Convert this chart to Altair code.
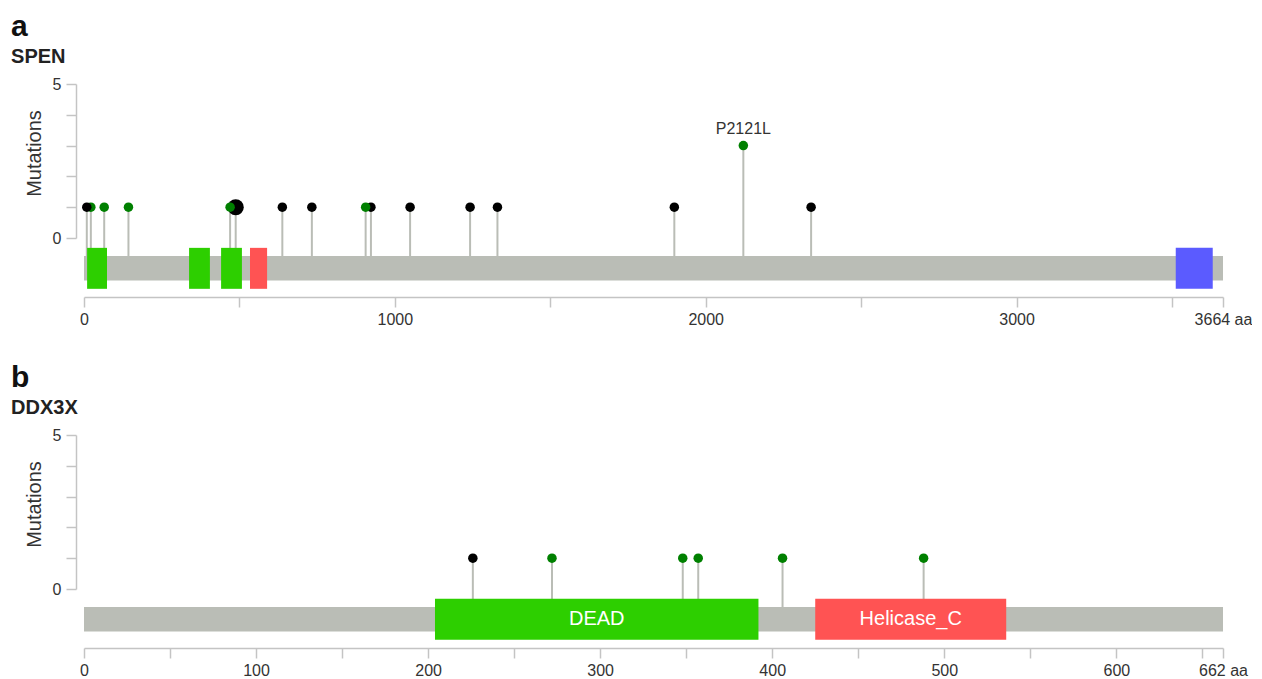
import altair as alt
import pandas as pd

FONT = "Liberation Sans"

# ---------------- SPEN ----------------
spen_length = 3664
spen_pos = [22, 9, 65, 143, 488, 470, 638, 733, 923, 906, 1049, 1242, 1330, 1899, 2121, 2339]
spen_cnt = [1, 1, 1, 1, 1, 1, 1, 1, 1, 1, 1, 1, 1, 1, 3, 1]
spen_type = ["Missense", "Truncating", "Missense", "Missense", "Truncating", "Missense",
             "Truncating", "Truncating", "Truncating", "Missense", "Truncating", "Truncating",
             "Truncating", "Truncating", "Missense", "Truncating"]
spen_dot = ["normal"] * 4 + ["large"] + ["normal"] * 11
spen_label = [""] * 14 + ["P2121L", ""]
spen_dom_name = ["RRM_1", "RRM_1", "RRM_1", "RRM_6", "SPOC"]
spen_dom_start = [10, 338, 441, 534, 3512]
spen_dom_end = [74, 405, 508, 589, 3631]
spen_dom_text = ["", "", "", "", ""]
spen_ticks = [0, 500, 1000, 1500, 2000, 2500, 3000, 3500, 3664]

# ---------------- DDX3X ----------------
ddx_length = 662
ddx_pos = [226, 272, 348, 357, 406, 488]
ddx_cnt = [1, 1, 1, 1, 1, 1]
ddx_type = ["Truncating", "Missense", "Missense", "Missense", "Missense", "Missense"]
ddx_dot = ["normal"] * 6
ddx_label = [""] * 6
ddx_dom_name = ["DEAD", "Helicase_C"]
ddx_dom_start = [204, 425]
ddx_dom_end = [392, 536]
ddx_dom_text = ["DEAD", "Helicase_C"]
ddx_ticks = [0, 50, 100, 150, 200, 250, 300, 350, 400, 450, 500, 550, 600, 650, 662]

# colours
dom_names = ["RRM_1", "RRM_6", "SPOC", "DEAD", "Helicase_C"]
dom_colors = ["#2dcf00", "#ff5353", "#5b5bff", "#2dcf00", "#ff5353"]
mut_types = ["Missense", "Truncating"]
mut_colors = ["#008000", "#000000"]
GRAY = "#babdb6"
AXIS_GRAY = "#c4c4c4"

# vertical layout (in mutation-count units)
BAR_TOP, BAR_BOT = -0.585, -1.38
DOM_TOP, DOM_BOT = -0.32, -1.65
DOM_MID = (DOM_TOP + DOM_BOT) / 2


def panel(letter, gene, length, ticks, label_step, pos, cnt, typ, dot, lab,
          dname, dstart, dend, dtext):
    muts = pd.DataFrame({"pos": pos, "count": cnt, "type": typ, "dot": dot, "label": lab})
    doms = pd.DataFrame({"name": dname, "start": dstart, "end": dend, "text": dtext})
    prot = pd.DataFrame({"start": [0], "end": [length]})

    xs = alt.Scale(domain=[0, length], nice=False, zero=False)
    ys = alt.Scale(domain=[0, 5], nice=False, zero=False)
    x_axis = alt.Axis(
        values=ticks, format="d",
        labelExpr=f"datum.value == {length} ? '{length} aa' : (datum.value % {label_step} == 0 ? datum.label : '')",
        offset=59, tickSize=10, domainColor=AXIS_GRAY, tickColor=AXIS_GRAY,
        domainWidth=1.5, tickWidth=1.5,
        labelFontSize=16, labelColor="#333", labelFont=FONT, labelPadding=4,
        grid=False, title=None, labelOverlap=False, labelFlush=False,
    )
    y_axis = alt.Axis(
        values=[0, 1, 2, 3, 4, 5],
        labelExpr="datum.value == 0 || datum.value == 5 ? datum.label : ''",
        offset=8, tickSize=10, domainColor=AXIS_GRAY, tickColor=AXIS_GRAY,
        domainWidth=1.5, tickWidth=1.5,
        labelFontSize=16, labelColor="#333", labelFont=FONT, labelPadding=5,
        grid=False, title="Mutations", titleFontSize=20, titleFontWeight="normal",
        titleColor="#333", titleFont=FONT, titlePadding=8, titleY=69,
    )

    def X(f):
        return alt.X(f, type="quantitative", scale=xs, axis=x_axis)

    stems = alt.Chart(muts).mark_rule(color=GRAY, strokeWidth=2).encode(
        x=X("pos"),
        y=alt.Y("count:Q", scale=ys, axis=y_axis),
        y2=alt.Y2Datum(BAR_TOP),
    )
    bar = alt.Chart(prot).mark_rect(color=GRAY).encode(
        x=X("start"), x2="end",
        y=alt.YDatum(BAR_TOP, type="quantitative", scale=ys, axis=y_axis),
        y2=alt.Y2Datum(BAR_BOT),
    )
    dom = alt.Chart(doms).mark_rect(opacity=1).encode(
        x=X("start"), x2="end",
        y=alt.YDatum(DOM_TOP, type="quantitative", scale=ys, axis=y_axis),
        y2=alt.Y2Datum(DOM_BOT),
        fill=alt.Fill("name:N", scale=alt.Scale(domain=dom_names, range=dom_colors), legend=None),
    )
    dom_txt = alt.Chart(doms).transform_calculate(mid="(datum.start + datum.end) / 2").mark_text(
        color="white", fontSize=20, font=FONT, baseline="middle", align="center"
    ).encode(
        x=X("mid"),
        y=alt.YDatum(DOM_MID, type="quantitative", scale=ys, axis=y_axis),
        text="text:N",
    )
    dots = alt.Chart(muts).mark_circle(opacity=1).encode(
        x=X("pos"),
        y=alt.Y("count:Q", scale=ys, axis=y_axis),
        color=alt.Color("type:N", scale=alt.Scale(domain=mut_types, range=mut_colors), legend=None),
        size=alt.Size("dot:O", scale=alt.Scale(domain=["normal", "large"], range=[90, 260]), legend=None),
    )
    ann = alt.Chart(muts).mark_text(
        fontSize=16, font=FONT, color="#333", baseline="bottom", dy=-9
    ).encode(
        x=X("pos"),
        y=alt.Y("count:Q", scale=ys, axis=y_axis),
        text="label:N",
    )
    return alt.layer(stems, bar, dom, dom_txt, dots, ann).properties(
        width=1139, height=154,
        title=alt.TitleParams(
            text=letter, subtitle=gene, anchor="start", frame="bounds",
            fontSize=30, fontWeight="bold", color="#111", font=FONT,
            subtitleFontSize=20, subtitleFontWeight="bold", subtitleColor="#222",
            subtitleFont=FONT, subtitlePadding=5, offset=9, dx=-13,
        ),
    )


top = panel("a", "SPEN", spen_length, spen_ticks, 1000, spen_pos, spen_cnt, spen_type, spen_dot,
            spen_label, spen_dom_name, spen_dom_start, spen_dom_end, spen_dom_text)
bottom = panel("b", "DDX3X", ddx_length, ddx_ticks, 100, ddx_pos, ddx_cnt, ddx_type, ddx_dot,
               ddx_label, ddx_dom_name, ddx_dom_start, ddx_dom_end, ddx_dom_text)

chart = alt.vconcat(top, bottom, spacing=36).properties(
    padding={"left": 3, "top": 4, "right": 0, "bottom": 0}
).configure_view(stroke=None)

chart.save("out.html", embed_options={"renderer": "svg", "actions": False})
